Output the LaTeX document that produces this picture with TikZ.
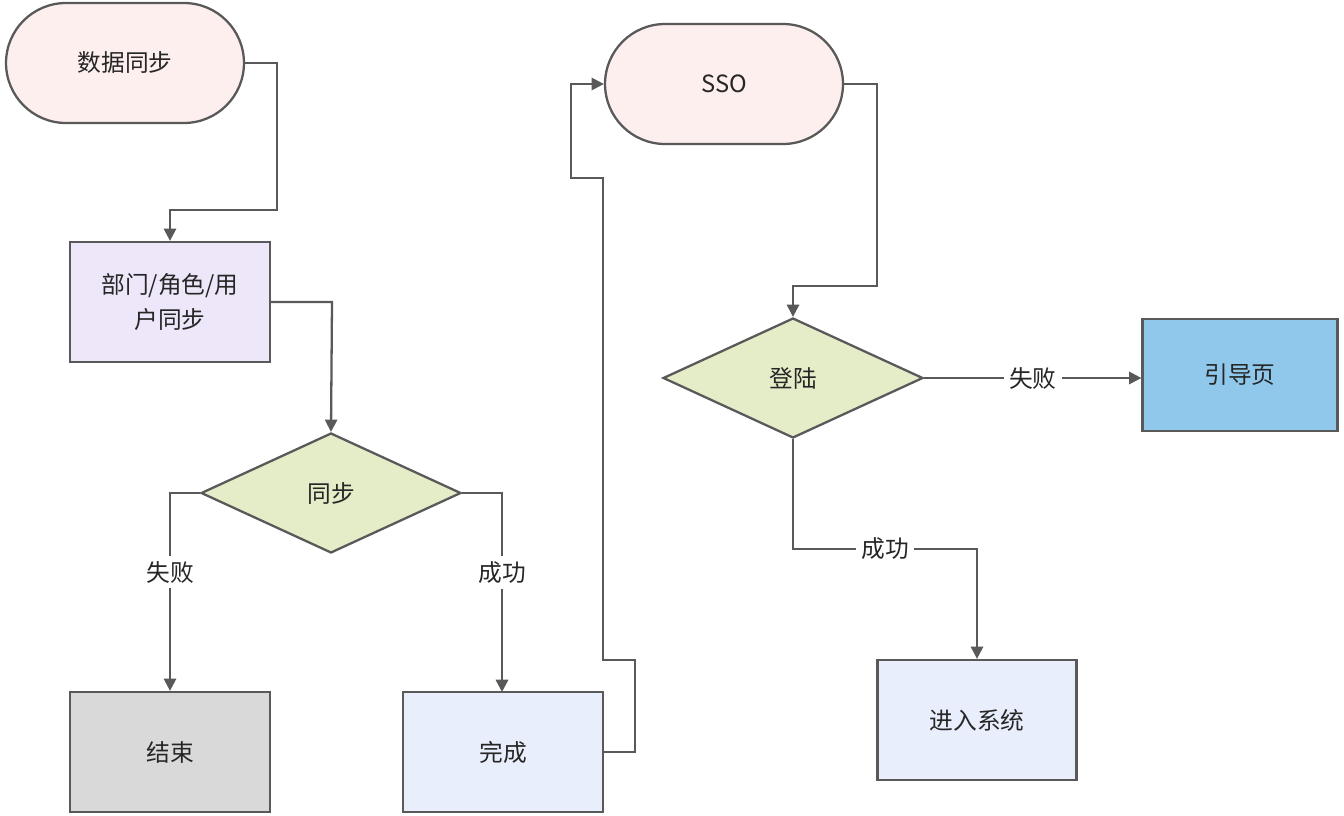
\documentclass[tikz,border=0pt]{standalone}
\usepackage{fontspec}
\setmainfont{Noto Sans CJK SC}
\usetikzlibrary{shapes.geometric,arrows.meta}
\definecolor{ln}{HTML}{595959}
\definecolor{pinkf}{HTML}{FDEFEE}
\definecolor{lavf}{HTML}{EEE7FA}
\definecolor{greenf}{HTML}{E4ECC8}
\definecolor{grayf}{HTML}{D9D9D9}
\definecolor{bluef}{HTML}{E8EEFB}
\definecolor{skyf}{HTML}{90C8EB}
\tikzset{
  base/.style={draw=ln,line width=1.3pt,font=\fontsize{13.5}{20}\selectfont,text=black!85,inner sep=0pt,align=center},
  term/.style={base,rounded rectangle,minimum width=4.76cm,minimum height=2.4cm},
  box/.style={base,rectangle,minimum width=4cm,minimum height=2.4cm},
  dec/.style={base,diamond,aspect=2.17,minimum width=5.2cm,minimum height=2.4cm},
  con/.style={draw=ln,line width=1.3pt,-{Triangle[length=7pt,width=7pt]}},
  lab/.style={fill=white,font=\fontsize{13.5}{16}\selectfont,text=black!85,inner sep=3pt}
}
\usetikzlibrary{shapes.misc}
\begin{document}
\begin{tikzpicture}[x=0.02cm,y=-0.02cm]
\useasboundingbox (0,0) rectangle (1344,815);
\node[term,fill=pinkf] (sync) at (125,63) {数据同步};
\node[box,fill=lavf] (dept) at (170,302) {部门/角色/用\\户同步};
\node[dec,fill=greenf,minimum width=5.2cm] (tb) at (331,493) {同步};
\node[box,fill=grayf] (end) at (170,752) {结束};
\node[box,fill=bluef] (done) at (503,752) {完成};
\node[term,fill=pinkf] (sso) at (724,84) {SSO};
\node[dec,fill=greenf] (login) at (793,378) {登陆};
\node[box,fill=skyf,minimum width=3.9cm,minimum height=2.24cm] (guide) at (1240,375) {引导页};
\node[box,fill=bluef,minimum width=3.98cm] (enter) at (977,720) {进入系统};
\draw[con] (sync.east) -- (277,63) -- (277,210) -- (170,210) -- (dept.north);
\draw[con] (dept.east) -- (332,302) -- (tb.north);
\draw[con] (tb.west) -- (170,493) -- (end.north) node[lab,pos=0.4] {失败};
\draw[con] (tb.east) -- (502,493) -- (502,692) node[lab,pos=0.4] {成功};
\draw[con] (done.east) -- (635,752) -- (635,660) -- (603,660) -- (603,178) -- (571,178) -- (571,84) -- (sso.west);
\draw[con] (sso.east) -- (877,84) -- (877,286) -- (793,286) -- (login.north);
\draw[con] (login.east) -- (guide.west |- login.east) node[lab,midway] {失败};
\draw[con] (login.south) -- (793,549) -- (977,549) node[lab,pos=0.5] {成功} -- (enter.north);
\end{tikzpicture}
\end{document}
